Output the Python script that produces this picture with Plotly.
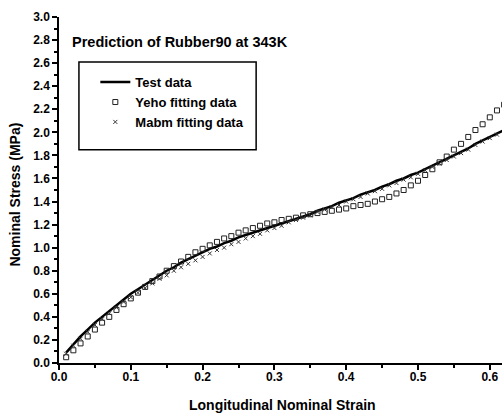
import plotly.graph_objects as go

strain = [0.01, 0.02, 0.03, 0.04, 0.05, 0.06, 0.07, 0.08, 0.09, 0.10,
          0.11, 0.12, 0.13, 0.14, 0.15, 0.16, 0.17, 0.18, 0.19, 0.20,
          0.21, 0.22, 0.23, 0.24, 0.25, 0.26, 0.27, 0.28, 0.29, 0.30,
          0.31, 0.32, 0.33, 0.34, 0.35, 0.36, 0.37, 0.38, 0.39, 0.40,
          0.41, 0.42, 0.43, 0.44, 0.45, 0.46, 0.47, 0.48, 0.49, 0.50,
          0.51, 0.52, 0.53, 0.54, 0.55, 0.56, 0.57, 0.58, 0.59, 0.60,
          0.61, 0.62]

test_stress = [0.09, 0.16, 0.23, 0.29, 0.35, 0.40, 0.45, 0.50, 0.55, 0.60,
               0.64, 0.68, 0.72, 0.76, 0.80, 0.83, 0.87, 0.90, 0.93, 0.96,
               0.99, 1.01, 1.04, 1.06, 1.09, 1.11, 1.13, 1.15, 1.17, 1.19,
               1.21, 1.23, 1.25, 1.27, 1.29, 1.32, 1.34, 1.36, 1.39, 1.41,
               1.43, 1.46, 1.48, 1.50, 1.53, 1.55, 1.58, 1.60, 1.63, 1.65,
               1.68, 1.71, 1.74, 1.77, 1.80, 1.83, 1.86, 1.90, 1.93, 1.96,
               1.99, 2.02]

yeho_stress = [0.05, 0.11, 0.17, 0.23, 0.29, 0.35, 0.40, 0.46, 0.51, 0.56,
               0.61, 0.66, 0.71, 0.75, 0.80, 0.84, 0.88, 0.92, 0.96, 0.99,
               1.02, 1.05, 1.08, 1.10, 1.13, 1.15, 1.17, 1.19, 1.21, 1.22,
               1.24, 1.25, 1.26, 1.28, 1.29, 1.30, 1.31, 1.32, 1.33, 1.34,
               1.36, 1.37, 1.38, 1.40, 1.42, 1.44, 1.47, 1.50, 1.54, 1.58,
               1.63, 1.68, 1.74, 1.79, 1.85, 1.90, 1.96, 2.02, 2.07, 2.13,
               2.19, 2.24]

mabm_stress = [0.08, 0.15, 0.21, 0.27, 0.33, 0.38, 0.43, 0.48, 0.53, 0.57,
               0.61, 0.65, 0.69, 0.73, 0.76, 0.80, 0.83, 0.86, 0.89, 0.92,
               0.95, 0.98, 1.00, 1.03, 1.05, 1.08, 1.10, 1.12, 1.15, 1.17,
               1.19, 1.22, 1.24, 1.26, 1.28, 1.31, 1.33, 1.35, 1.37, 1.40,
               1.42, 1.44, 1.47, 1.49, 1.51, 1.54, 1.56, 1.59, 1.61, 1.64,
               1.67, 1.70, 1.73, 1.76, 1.79, 1.82, 1.85, 1.89, 1.92, 1.95,
               1.98, 2.01]

x_ticks = [0.0, 0.1, 0.2, 0.3, 0.4, 0.5, 0.6]
x_labels = ["0.0", "0.1", "0.2", "0.3", "0.4", "0.5", "0.6"]
y_ticks = [0.0, 0.2, 0.4, 0.6, 0.8, 1.0, 1.2, 1.4, 1.6, 1.8, 2.0, 2.2, 2.4, 2.6, 2.8, 3.0]
y_labels = ["0.0", "0.2", "0.4", "0.6", "0.8", "1.0", "1.2", "1.4", "1.6", "1.8",
            "2.0", "2.2", "2.4", "2.6", "2.8", "3.0"]

FONT = "Liberation Sans"

fig = go.Figure()
fig.add_trace(go.Scatter(x=strain, y=test_stress, mode="lines", name="Test data",
                         line=dict(color="black", width=2.5)))
fig.add_trace(go.Scatter(x=strain, y=yeho_stress, mode="markers", name="Yeho fitting data",
                         marker=dict(symbol="square-open", size=5, color="#222222",
                                     line=dict(width=1))))
fig.add_trace(go.Scatter(x=strain, y=mabm_stress, mode="markers", name="Mabm fitting data",
                         marker=dict(symbol="x-thin-open", size=4, color="#333333",
                                     line=dict(width=1, color="#333333"))))

axis_common = dict(
    showgrid=False, zeroline=False, showline=True, linecolor="black", linewidth=1.5,
    ticks="outside", ticklen=5, tickwidth=1.5, tickcolor="black",
    tickfont=dict(family=FONT, size=12, color="black", weight="bold"),
)

fig.update_layout(
    width=502, height=414,
    margin=dict(l=59, r=0, t=17, b=51),
    paper_bgcolor="white", plot_bgcolor="white",
    font=dict(family=FONT, color="black"),
    xaxis=dict(range=[0, 0.617], tickvals=x_ticks, ticktext=x_labels,
               ticklabelstandoff=-3,
               minor=dict(dtick=0.05, ticks="outside", ticklen=3, tickwidth=1.5, tickcolor="black"),
               **axis_common),
    yaxis=dict(range=[0, 3.0], tickvals=y_ticks, ticktext=y_labels,
               minor=dict(dtick=0.1, ticks="outside", ticklen=3, tickwidth=1.5, tickcolor="black"),
               **axis_common),
    showlegend=True,
    legend=dict(x=0.082, y=0.855, xanchor="left", yanchor="top",
                bgcolor="rgba(0,0,0,0)", borderwidth=0,
                font=dict(family=FONT, size=13, color="black", weight="bold"),
                tracegroupgap=0, itemwidth=30),
    shapes=[dict(type="rect", xref="paper", yref="paper",
                 x0=0.045, x1=0.445, y0=0.616, y1=0.870,
                 line=dict(color="black", width=1.5))],
    annotations=[
        dict(text="Prediction of Rubber90 at 343K", xref="paper", yref="paper",
             x=0.025, y=0.928, xanchor="left", yanchor="middle", showarrow=False,
             font=dict(family=FONT, size=14.5, color="black", weight="bold")),
        dict(text="Longitudinal Nominal Strain", xref="paper", yref="paper",
             x=0.504, y=-0.121, xanchor="center", yanchor="middle", showarrow=False,
             font=dict(family=FONT, size=14, color="black", weight="bold")),
        dict(text="Nominal Stress (MPa)", xref="paper", yref="paper",
             x=-0.1, y=0.486, xanchor="center", yanchor="middle", showarrow=False,
             textangle=-90,
             font=dict(family=FONT, size=14, color="black", weight="bold")),
    ],
)

fig.write_html("out.html")
